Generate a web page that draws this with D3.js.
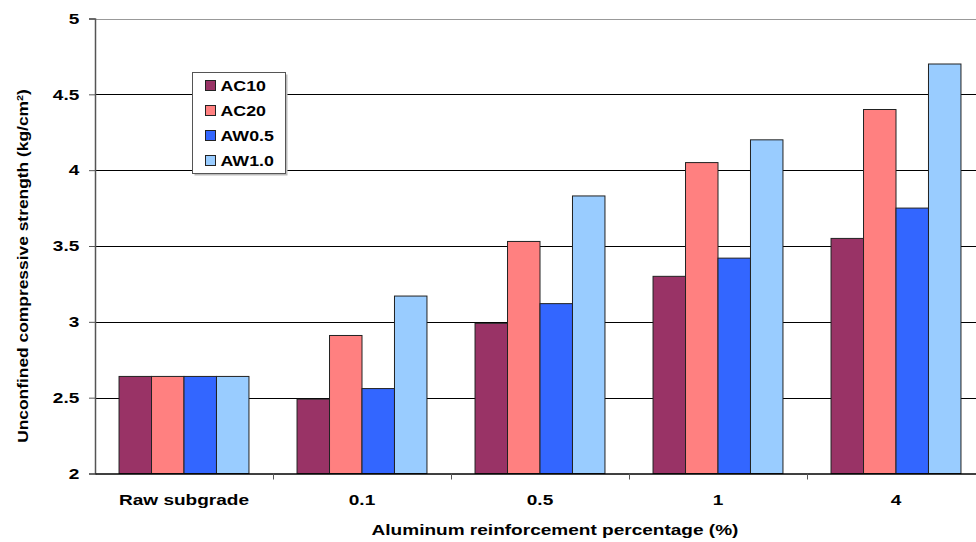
<!DOCTYPE html>
<html>
<head>
<meta charset="utf-8">
<script src="https://cdn.jsdelivr.net/npm/d3@7"></script>
<style>
  body { margin: 0; background: #fff; }
  text { font-family: "Liberation Sans", Arial, sans-serif; font-weight: bold; }
</style>
</head>
<body>
<svg id="chart" width="976" height="542"></svg>
<script>
// Values.
const categories = ["Raw subgrade", "0.1", "0.5", "1", "4"];
const seriesNames = ["AC10", "AC20", "AW0.5", "AW1.0"];
const seriesColors = ["#993366", "#FF8080", "#3366FF", "#99CCFF"];
const ac10 = [2.64, 2.49, 2.99, 3.30, 3.55];
const ac20 = [2.64, 2.91, 3.53, 4.05, 4.40];
const aw05 = [2.64, 2.56, 3.12, 3.42, 3.75];
const aw10 = [2.64, 3.17, 3.83, 4.20, 4.70];
const yTicks = [2, 2.5, 3, 3.5, 4, 4.5, 5];

const seriesValues = [ac10, ac20, aw05, aw10];

// the original text is stretched along its length
const sx = 1.27;

const svg = d3.select("#chart");
const margin = {left: 95, top: 18.5};
const plotW = 890, plotH = 455;

const x = d3.scaleBand().domain(categories).range([margin.left, margin.left + plotW]);
const xs = d3.scaleBand().domain(seriesNames).range([0, x.bandwidth()]).paddingOuter(0.74);
const y = d3.scaleLinear().domain([2, 5]).range([margin.top + plotH, margin.top]);

// Gridlines
svg.append("g").selectAll("line")
    .data(yTicks.slice(1, -1))
    .enter().append("line")
    .attr("x1", margin.left).attr("x2", margin.left + plotW)
    .attr("y1", d => Math.round(y(d)) + 0.5).attr("y2", d => Math.round(y(d)) + 0.5)
    .attr("stroke", "#000").attr("stroke-width", 1.2);

// top border
svg.append("line")
    .attr("x1", margin.left).attr("x2", margin.left + plotW)
    .attr("y1", Math.round(y(5)) + 0.5).attr("y2", Math.round(y(5)) + 0.5)
    .attr("stroke", "#999").attr("stroke-width", 1.2);

// Bars
const groups = svg.append("g").selectAll("g")
    .data(categories)
    .enter().append("g")
    .attr("transform", d => `translate(${x(d)},0)`);

groups.selectAll("rect")
    .data((c, i) => seriesNames.map((s, j) => ({s: s, v: seriesValues[j][i], c: seriesColors[j]})))
    .enter().append("rect")
    .attr("x", d => xs(d.s))
    .attr("width", xs.bandwidth())
    .attr("y", d => y(d.v))
    .attr("height", d => y(2) - y(d.v))
    .attr("fill", d => d.c)
    .attr("stroke", "#222")
    .attr("stroke-width", 1);

// Y axis
const yAxis = d3.axisLeft(y).tickValues(yTicks).tickSize(6).tickFormat(d => d);
const gy = svg.append("g")
    .attr("transform", `translate(${margin.left},0)`)
    .call(yAxis);
gy.select(".domain").attr("stroke", "#555").attr("stroke-width", 1.5);
gy.selectAll(".tick line").attr("stroke", "#555");
gy.selectAll(".tick text")
    .attr("x", -12.4)
    .attr("transform", `scale(${sx},1)`)
    .style("font-size", "15px")
    .style("font-family", "Liberation Sans, Arial, sans-serif")
    .style("font-weight", "bold")
    .attr("fill", "#000");

// X axis
const xAxis = d3.axisBottom(x).tickSize(0).tickPadding(21);
const gx = svg.append("g")
    .attr("transform", `translate(0,${margin.top + plotH})`)
    .call(xAxis);
gx.select(".domain").attr("stroke", "#000").attr("stroke-width", 1.5);
gx.selectAll(".tick text")
    .attr("transform", `scale(${sx},1)`)
    .style("font-size", "15px")
    .style("font-family", "Liberation Sans, Arial, sans-serif")
    .style("font-weight", "bold")
    .attr("fill", "#000");

// category separator ticks
svg.append("g").selectAll("line")
    .data(categories.slice(1))
    .enter().append("line")
    .attr("x1", d => x(d) + 0.5).attr("x2", d => x(d) + 0.5)
    .attr("y1", margin.top + plotH).attr("y2", margin.top + plotH + 6)
    .attr("stroke", "#555").attr("stroke-width", 1);

// Axis titles
svg.append("text")
    .attr("transform", `translate(555,535) scale(${sx},1)`)
    .attr("text-anchor", "middle")
    .style("font-size", "15px")
    .text("Aluminum reinforcement percentage (%)");

const yt = svg.append("text")
    .attr("transform", `translate(27.5,266) rotate(-90) scale(1.2,1)`)
    .attr("text-anchor", "middle")
    .style("font-size", "14.5px");
yt.append("tspan").text("Unconfined compressive strength (kg/cm");
yt.append("tspan").attr("baseline-shift", "super").style("font-size", "9px").text("2");
yt.append("tspan").text(")");

// Legend
const legend = svg.append("g").attr("transform", "translate(192.5,72.5)");
legend.append("rect")
    .attr("x", 2).attr("y", 2).attr("width", 93).attr("height", 101)
    .attr("fill", "#bbb");
legend.append("rect")
    .attr("width", 93).attr("height", 101)
    .attr("fill", "#fff").attr("stroke", "#555").attr("stroke-width", 1);
const items = legend.selectAll("g.item")
    .data(seriesNames)
    .enter().append("g")
    .attr("transform", (d, i) => `translate(13,${13 + i * 25})`);
items.append("rect")
    .attr("x", 0).attr("y", -5).attr("width", 10).attr("height", 10)
    .attr("fill", (d, i) => seriesColors[i])
    .attr("stroke", "#222").attr("stroke-width", 1);
items.append("text")
    .attr("transform", `translate(15,5) scale(${sx},1)`)
    .style("font-size", "14px")
    .text(d => d);
</script>
</body>
</html>
